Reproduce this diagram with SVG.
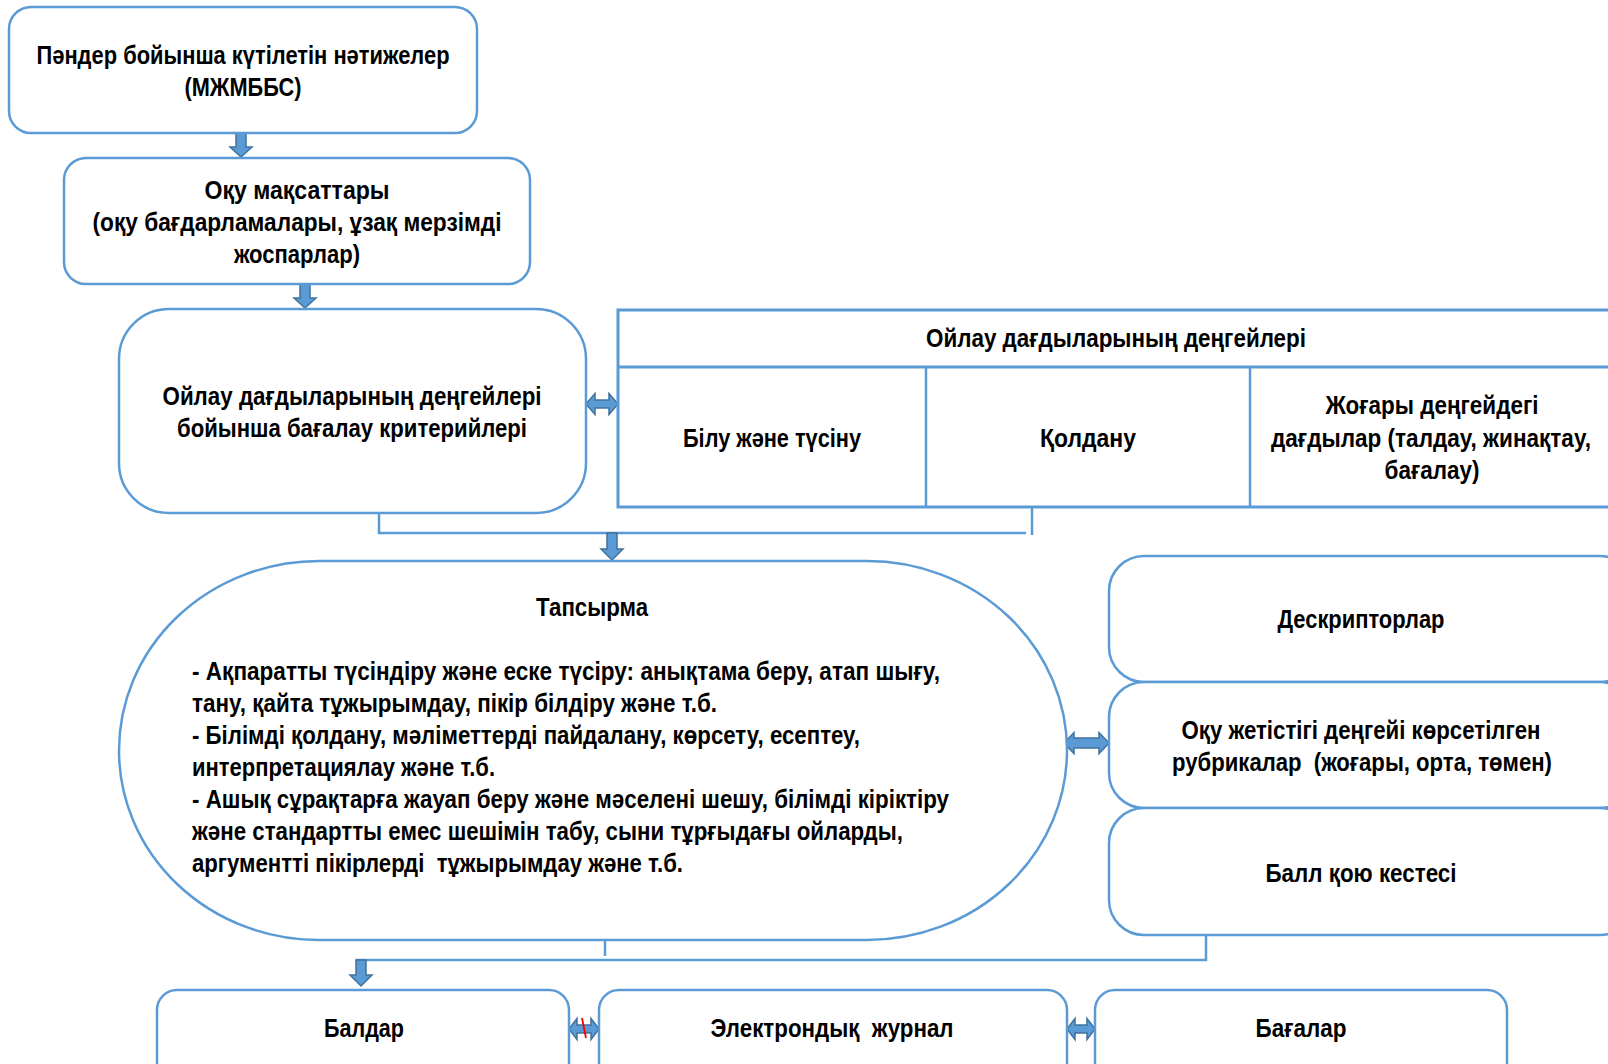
<svg xmlns="http://www.w3.org/2000/svg" width="1608" height="1064" viewBox="0 0 1608 1064">
<style>
.box{fill:#fff;stroke:#5B9BD5;stroke-width:2.5}
.tb{fill:#fff;stroke:#5B9BD5;stroke-width:3}
.t{font-family:"Liberation Sans Narrow","Liberation Sans",Arial,sans-serif;font-weight:bold;font-size:25px;fill:#000;white-space:pre}
.c{text-anchor:middle}
.arr{fill:#5B9BD5;stroke:#41719C;stroke-width:1.5;stroke-linejoin:miter}
.ln{fill:none;stroke:#5B9BD5;stroke-width:2.5}
</style>
<rect width="1608" height="1064" fill="#fff"/>
<g id="connectors">
<polygon class="arr" points="236,133 246,133 246,147 252,147 241,157 230,147 236,147"/>
<polygon class="arr" points="300,284 310,284 310,298 316,298 305,308 294,298 300,298"/>
<polygon class="arr" points="586,404 595,393.5 595,400 609,400 609,393.5 618,404 609,414.5 609,408 595,408 595,414.5"/>
<path class="ln" d="M379,513 V533 H1026"/>
<path class="ln" d="M1032,507 V535"/>
<polygon class="arr" points="607,533 617,533 617,549 623,549 612,560 601,549 607,549"/>
<polygon class="arr" points="1064,743 1074,732.5 1074,738 1099,738 1099,732.5 1109,743 1099,753.5 1099,748 1074,748 1074,753.5"/>
<path class="ln" d="M605,940 V956"/>
<path class="ln" d="M1206,935 V960 H356"/>
<polygon class="arr" points="356,960 366,960 366,975 372,975 361,986 350,975 356,975"/>
<polygon class="arr" points="569,1029 577,1018.5 577,1025 591,1025 591,1018.5 599,1029 591,1039.5 591,1033 577,1033 577,1039.5"/>
<line x1="582" y1="1018" x2="586" y2="1038" stroke="#FF0000" stroke-width="1.8"/>
<polygon class="arr" points="1067,1029 1075,1018.5 1075,1025 1087,1025 1087,1018.5 1095,1029 1087,1039.5 1087,1033 1075,1033 1075,1039.5"/>
</g>
<g id="node-results">
<rect class="box" x="9" y="7" width="468" height="126" rx="22" ry="22"/>
<text class="t c" x="243" y="64" textLength="413" lengthAdjust="spacingAndGlyphs">Пәндер бойынша күтілетін нәтижелер</text>
<text class="t c" x="243" y="96" textLength="117" lengthAdjust="spacingAndGlyphs">(МЖМББС)</text>
</g>
<g id="node-objectives">
<rect class="box" x="64" y="158" width="466" height="126" rx="22" ry="22"/>
<text class="t c" x="297" y="199" textLength="185" lengthAdjust="spacingAndGlyphs">Оқу мақсаттары</text>
<text class="t c" x="297" y="231" textLength="409" lengthAdjust="spacingAndGlyphs">(оқу бағдарламалары, ұзақ мерзімді</text>
<text class="t c" x="297" y="263" textLength="126" lengthAdjust="spacingAndGlyphs">жоспарлар)</text>
</g>
<g id="node-criteria">
<rect class="box" x="119" y="309" width="467" height="204" rx="50" ry="50"/>
<text class="t c" x="352" y="405" textLength="379" lengthAdjust="spacingAndGlyphs">Ойлау дағдыларының деңгейлері</text>
<text class="t c" x="352" y="437" textLength="350" lengthAdjust="spacingAndGlyphs">бойынша бағалау критерийлері</text>
</g>
<g id="node-levels">
<rect class="tb" x="618" y="310" width="1000" height="197"/>
<line class="tb" x1="618" y1="367" x2="1618" y2="367"/>
<line class="ln" x1="926" y1="367" x2="926" y2="507"/>
<line class="ln" x1="1250" y1="367" x2="1250" y2="507"/>
<text class="t c" x="1116" y="347" textLength="380" lengthAdjust="spacingAndGlyphs">Ойлау дағдыларының деңгейлері</text>
<text class="t c" x="772" y="447" textLength="178" lengthAdjust="spacingAndGlyphs">Білу және түсіну</text>
<text class="t c" x="1088" y="447" textLength="96" lengthAdjust="spacingAndGlyphs">Қолдану</text>
<text class="t c" x="1432" y="414" textLength="213" lengthAdjust="spacingAndGlyphs">Жоғары деңгейдегі</text>
<text class="t c" x="1431" y="447" textLength="320" lengthAdjust="spacingAndGlyphs">дағдылар (талдау, жинақтау,</text>
<text class="t c" x="1432" y="479" textLength="95" lengthAdjust="spacingAndGlyphs">бағалау)</text>
</g>
<g id="node-task">
<rect class="box" x="119" y="561" width="948" height="379" rx="200" ry="189.5"/>
<text class="t c" x="592" y="616" textLength="112" lengthAdjust="spacingAndGlyphs">Тапсырма</text>
<text class="t" x="192" y="680" textLength="748" lengthAdjust="spacingAndGlyphs">- Ақпаратты түсіндіру және еске түсіру: анықтама беру, атап шығу,</text>
<text class="t" x="192" y="712" textLength="525" lengthAdjust="spacingAndGlyphs">тану, қайта тұжырымдау, пікір білдіру және т.б.</text>
<text class="t" x="192" y="744" textLength="668" lengthAdjust="spacingAndGlyphs">- Білімді қолдану, мәліметтерді пайдалану, көрсету, есептеу,</text>
<text class="t" x="192" y="776" textLength="303" lengthAdjust="spacingAndGlyphs">интерпретациялау және т.б.</text>
<text class="t" x="192" y="808" textLength="757" lengthAdjust="spacingAndGlyphs">- Ашық сұрақтарға жауап беру және мәселені шешу, білімді кіріктіру</text>
<text class="t" x="192" y="840" textLength="711" lengthAdjust="spacingAndGlyphs">және стандартты емес шешімін табу, сыни тұрғыдағы ойларды,</text>
<text class="t" x="192" y="872" textLength="491" lengthAdjust="spacingAndGlyphs">аргументті пікірлерді  тұжырымдау және т.б.</text>
</g>
<g id="node-descriptors">
<rect class="box" x="1109" y="556" width="526" height="126" rx="35" ry="35"/>
<text class="t c" x="1361" y="628" textLength="167" lengthAdjust="spacingAndGlyphs">Дескрипторлар</text>
</g>
<g id="node-rubrics">
<rect class="box" x="1109" y="682" width="526" height="126" rx="35" ry="35"/>
<text class="t c" x="1361" y="739" textLength="359" lengthAdjust="spacingAndGlyphs">Оқу жетістігі деңгейі көрсетілген</text>
<text class="t c" x="1362" y="771" textLength="380" lengthAdjust="spacingAndGlyphs">рубрикалар  (жоғары, орта, төмен)</text>
</g>
<g id="node-scoring">
<rect class="box" x="1109" y="808" width="526" height="127" rx="35" ry="35"/>
<text class="t c" x="1361" y="882" textLength="191" lengthAdjust="spacingAndGlyphs">Балл қою кестесі</text>
</g>
<g id="node-points">
<rect class="box" x="157" y="990" width="412" height="110" rx="20" ry="20"/>
<text class="t c" x="364" y="1037" textLength="80" lengthAdjust="spacingAndGlyphs">Балдар</text>
</g>
<g id="node-journal">
<rect class="box" x="599" y="990" width="468" height="110" rx="20" ry="20"/>
<text class="t c" x="832" y="1037" textLength="243" lengthAdjust="spacingAndGlyphs">Электрондық  журнал</text>
</g>
<g id="node-grades">
<rect class="box" x="1095" y="990" width="412" height="110" rx="20" ry="20"/>
<text class="t c" x="1301" y="1037" textLength="91" lengthAdjust="spacingAndGlyphs">Бағалар</text>
</g>
</svg>
